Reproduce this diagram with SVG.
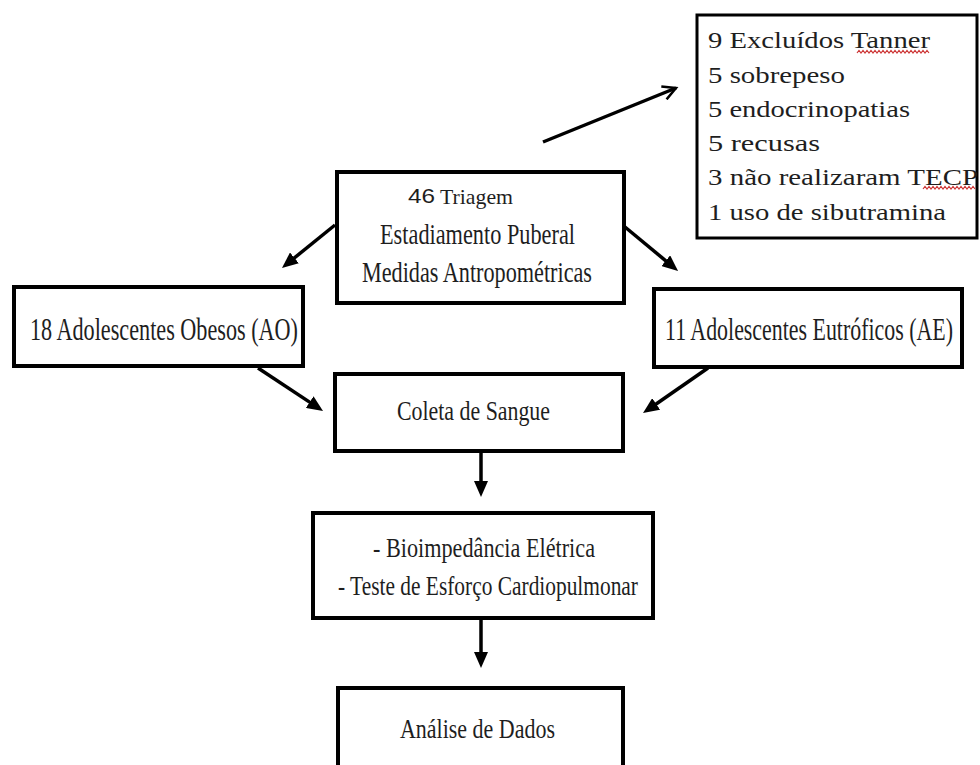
<svg xmlns="http://www.w3.org/2000/svg" width="980" height="765" viewBox="0 0 980 765">
  <style>
    .box { fill: #ffffff; stroke: #000000; stroke-width: 4; }
    .xbox { fill: #ffffff; stroke: #000000; stroke-width: 3; }
    .t { font-family: "Liberation Serif", "Times New Roman", serif; fill: #1e1e1e; }
    .s { font-family: "Liberation Sans", Arial, sans-serif; fill: #1e1e1e; }
    .conn { stroke: #000000; stroke-width: 3.5; fill: none; }
    .wave { stroke: #cc3333; stroke-width: 1.2; fill: none; }
  </style>
  <defs>
    <marker id="arr" markerUnits="userSpaceOnUse" markerWidth="17" markerHeight="14" refX="4" refY="7" orient="auto">
      <path d="M0,0 L16,7 L0,14 z" fill="#000000"/>
    </marker>
    <marker id="open" markerUnits="userSpaceOnUse" markerWidth="18" markerHeight="16" refX="14" refY="8" orient="auto">
      <path d="M1,1 L14,8 L1,15" fill="none" stroke="#000000" stroke-width="2.5"/>
    </marker>
  </defs>
  <rect width="980" height="765" fill="#ffffff"/>

  <g id="connectors">
    <line class="conn" x1="335" y1="225" x2="291.3" y2="260.4" marker-end="url(#arr)"/>
    <line class="conn" x1="625" y1="227" x2="668.8" y2="263.3" marker-end="url(#arr)"/>
    <line class="conn" x1="258" y1="368" x2="313" y2="404.4" marker-end="url(#arr)"/>
    <line class="conn" x1="708" y1="368" x2="652.9" y2="406.2" marker-end="url(#arr)"/>
    <line class="conn" x1="481" y1="452" x2="481" y2="485" stroke-width="3" marker-end="url(#arr)"/>
    <line class="conn" x1="481" y1="620" x2="481" y2="656" stroke-width="3" marker-end="url(#arr)"/>
    <line class="conn" x1="543" y1="142" x2="676" y2="88" stroke-width="3" marker-end="url(#open)"/>
  </g>

  <g id="excluidos">
    <rect class="xbox" x="697" y="15" width="280" height="223"/>
    <text class="t" x="708" y="48" font-size="23" textLength="222" lengthAdjust="spacingAndGlyphs">9 Excluídos Tanner</text>
    <text class="t" x="708" y="83" font-size="23" textLength="137" lengthAdjust="spacingAndGlyphs">5 sobrepeso</text>
    <text class="t" x="708" y="117" font-size="23" textLength="202" lengthAdjust="spacingAndGlyphs">5 endocrinopatias</text>
    <text class="t" x="708" y="151" font-size="23" textLength="112" lengthAdjust="spacingAndGlyphs">5 recusas</text>
    <text class="t" x="708" y="185" font-size="23" textLength="270" lengthAdjust="spacingAndGlyphs">3 não realizaram TECP</text>
    <text class="t" x="708" y="220" font-size="23" textLength="238" lengthAdjust="spacingAndGlyphs">1 uso de sibutramina</text>
    <path class="wave" d="M857,53 l2,-2.5 l2,2.5 l2,-2.5 l2,2.5 l2,-2.5 l2,2.5 l2,-2.5 l2,2.5 l2,-2.5 l2,2.5 l2,-2.5 l2,2.5 l2,-2.5 l2,2.5 l2,-2.5 l2,2.5 l2,-2.5 l2,2.5 l2,-2.5 l2,2.5 l2,-2.5 l2,2.5 l2,-2.5 l2,2.5 l2,-2.5 l2,2.5 l2,-2.5 l2,2.5 l2,-2.5 l2,2.5 l2,-2.5 l2,2.5 l2,-2.5 l2,2.5 l2,-2.5 l2,2.5"/>
    <path class="wave" d="M923,189 l2,-2.5 l2,2.5 l2,-2.5 l2,2.5 l2,-2.5 l2,2.5 l2,-2.5 l2,2.5 l2,-2.5 l2,2.5 l2,-2.5 l2,2.5 l2,-2.5 l2,2.5 l2,-2.5 l2,2.5 l2,-2.5 l2,2.5 l2,-2.5 l2,2.5 l2,-2.5 l2,2.5 l2,-2.5 l2,2.5 l2,-2.5 l2,2.5"/>
  </g>

  <g id="triagem">
    <rect class="box" x="337" y="172" width="287" height="131"/>
    <text class="s" x="408" y="203" font-size="20" textLength="27" lengthAdjust="spacingAndGlyphs">46</text>
    <text class="t" x="440" y="204" font-size="22" textLength="73" lengthAdjust="spacingAndGlyphs">Triagem</text>
    <text class="t" x="380" y="244" font-size="29" textLength="195" lengthAdjust="spacingAndGlyphs">Estadiamento Puberal</text>
    <text class="t" x="362" y="282" font-size="29" textLength="230" lengthAdjust="spacingAndGlyphs">Medidas Antropométricas</text>
  </g>

  <g id="obesos">
    <rect class="box" x="14" y="287" width="289" height="79"/>
    <text class="t" x="30" y="340" font-size="32" textLength="268" lengthAdjust="spacingAndGlyphs">18 Adolescentes  Obesos (AO)</text>
  </g>

  <g id="eutroficos">
    <rect class="box" x="654" y="289" width="308" height="78"/>
    <text class="t" transform="translate(665,340) scale(0.68,1)" x="0" y="0" font-size="32" textLength="423.5" lengthAdjust="spacingAndGlyphs">11 Adolescentes Eutróficos (AE)</text>
  </g>

  <g id="coleta">
    <rect class="box" x="335" y="374" width="288" height="77"/>
    <text class="t" x="397" y="420" font-size="28" textLength="153" lengthAdjust="spacingAndGlyphs">Coleta de Sangue</text>
  </g>

  <g id="testes">
    <rect class="box" x="313" y="513" width="340" height="105"/>
    <text class="t" x="373" y="557" font-size="27" textLength="222" lengthAdjust="spacingAndGlyphs">- Bioimpedância Elétrica</text>
    <text class="t" x="338" y="595" font-size="27" textLength="300" lengthAdjust="spacingAndGlyphs">- Teste de Esforço Cardiopulmonar</text>
  </g>

  <g id="analise">
    <rect class="box" x="338" y="688" width="285" height="100"/>
    <text class="t" x="400" y="738" font-size="27" textLength="155" lengthAdjust="spacingAndGlyphs">Análise de Dados</text>
  </g>
</svg>
